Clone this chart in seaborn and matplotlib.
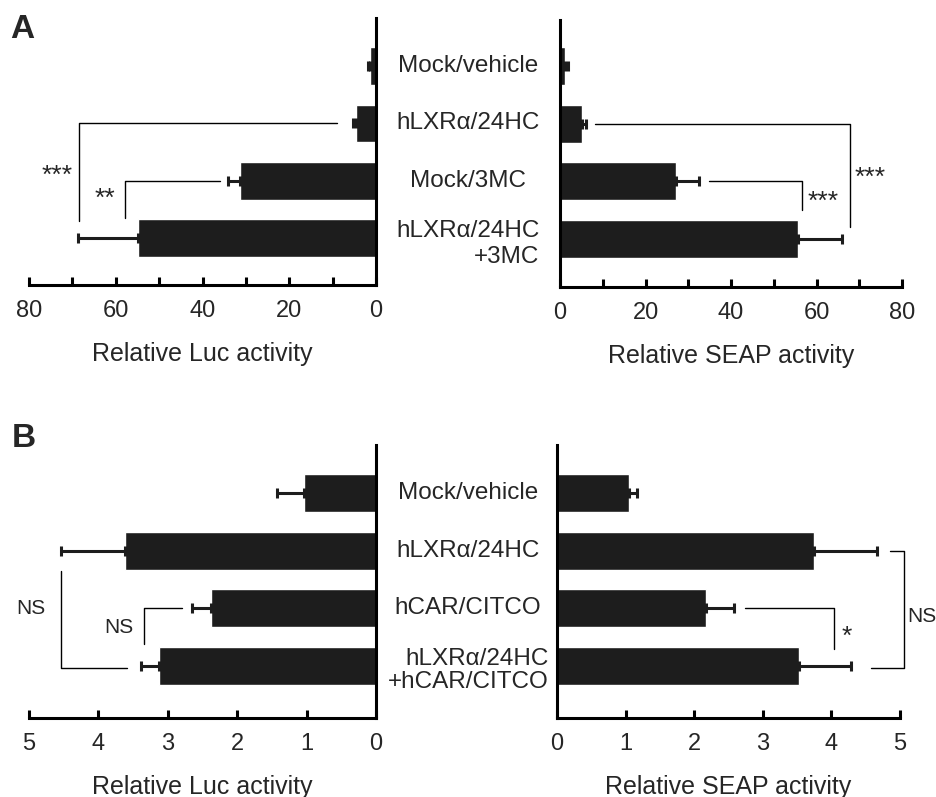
import matplotlib
matplotlib.use("Agg")
import matplotlib.pyplot as plt
import matplotlib.transforms as mtransforms
from matplotlib.ticker import MultipleLocator
import pandas as pd
import seaborn as sns

# data
groups_a = ["Mock/vehicle", "hLXRα/24HC", "Mock/3MC", "hLXRα/24HC\n+3MC"]
luc_a = [1.3, 4.6, 31.3, 54.8]
luc_a_err = [0.6, 0.8, 2.9, 13.9]
seap_a = [1.2, 5.1, 27.1, 55.6]
seap_a_err = [0.6, 1.0, 5.3, 10.4]

groups_b = ["Mock/vehicle", "hLXRα/24HC", "hCAR/CITCO", "hLXRα/24HC\n+hCAR/CITCO"]
luc_b = [1.04, 3.62, 2.38, 3.12]
luc_b_err = [0.39, 0.92, 0.27, 0.26]
seap_b = [1.05, 3.75, 2.17, 3.52]
seap_b_err = [0.12, 0.91, 0.41, 0.76]

sns.set_theme(style="white")
plt.rcParams["font.family"] = ["Liberation Sans", "DejaVu Sans"]

BAR = "#1d1d1d"

fig = plt.figure(figsize=(9.36, 7.97), dpi=100)
ax_al = fig.add_axes([0.031, 0.6424, 0.3707, 0.335])
ax_ar = fig.add_axes([0.5983, 0.6399, 0.3654, 0.335])
ax_bl = fig.add_axes([0.031, 0.0991, 0.3707, 0.3425])
ax_br = fig.add_axes([0.5951, 0.0991, 0.3665, 0.3425])


def draw(ax, groups, vals, errs, side, xmax, major, minor, ylim, xlabel):
    df = pd.DataFrame({"group": groups, "value": vals})
    sns.barplot(data=df, x="value", y="group", orient="h", color=BAR,
                saturation=1, width=0.66, ax=ax, errorbar=None)
    ax.errorbar(vals, range(len(vals)), xerr=[[0] * len(vals), errs],
                fmt="none", ecolor=BAR, elinewidth=2.2, capsize=3.5,
                capthick=2.2)
    if side == "left":
        ax.set_xlim(xmax, 0)
        ax.spines["left"].set_visible(False)
    else:
        ax.set_xlim(0, xmax)
        ax.spines["right"].set_visible(False)
    ax.spines["top"].set_visible(False)
    ax.set_ylim(*ylim)
    ax.set_yticks([])
    ax.set_ylabel("")
    for s in ["left", "right", "bottom"]:
        ax.spines[s].set_linewidth(2.2)
        ax.spines[s].set_color("black")
    ax.xaxis.set_major_locator(MultipleLocator(major))
    ax.xaxis.set_minor_locator(MultipleLocator(minor))
    ax.tick_params(axis="x", which="both", direction="in", length=6,
                   width=2.2, color="black", bottom=True, pad=11,
                   labelsize=17)
    ax.set_xlabel(xlabel, fontsize=18, labelpad=14)


draw(ax_al, groups_a, luc_a, luc_a_err, "left", 80, 20, 10, (3.82, -0.84),
     "Relative Luc activity")
draw(ax_ar, groups_a, seap_a, seap_a_err, "right", 80, 20, 10, (3.84, -0.8),
     "Relative SEAP activity")
draw(ax_bl, groups_b, luc_b, luc_b_err, "left", 5, 1, 1, (3.9, -0.83),
     "Relative Luc activity")
draw(ax_br, groups_b, seap_b, seap_b_err, "right", 5, 1, 1, (3.9, -0.83),
     "Relative SEAP activity")

# category labels between the two panels
for ax, groups, ls, off in [(ax_al, groups_a, 1.22, 0.1),
                            (ax_bl, groups_b, 1.05, 0.08)]:
    tr = mtransforms.blended_transform_factory(fig.transFigure, ax.transData)
    for i, g in enumerate(groups):
        yy = i + off if "\n" in g else i
        fig.text(0.5, yy, g, transform=tr, ha="center", va="center",
                 multialignment="right", fontsize=17.5, linespacing=ls)

# significance brackets
LW = 1.0


def bracket(ax, pts, text, tx, ty, ha="center", size=19):
    xs, ys = zip(*pts)
    ax.plot(xs, ys, color="black", lw=LW, clip_on=False)
    ax.text(tx, ty, text, ha=ha, va="center", fontsize=size, clip_on=False)


bracket(ax_al, [(9, 1), (68.4, 1), (68.4, 2.7)], "***", 73.5, 1.92)
bracket(ax_al, [(36, 2), (57.8, 2), (57.8, 2.65)], "**", 62.5, 2.32)
bracket(ax_ar, [(8.2, 1), (67.9, 1), (67.9, 2.8)], "***", 72.5, 1.94)
bracket(ax_ar, [(34.9, 2), (56.6, 2), (56.6, 2.5)], "***", 61.5, 2.36)

bracket(ax_bl, [(4.54, 1.36), (4.54, 3.03), (3.59, 3.03)], "NS", 4.98, 2.0,
        size=15)
bracket(ax_bl, [(2.8, 2), (3.34, 2), (3.34, 2.62)], "NS", 3.71, 2.33,
        size=15)
bracket(ax_br, [(4.85, 1), (5.06, 1), (5.06, 3.03), (4.57, 3.03)], "NS",
        5.1, 2.14, ha="left", size=15)
bracket(ax_br, [(2.74, 2), (4.03, 2), (4.03, 2.7)], "*", 4.22, 2.5)

fig.text(0.011, 0.963, "A", fontsize=24, fontweight="bold", va="center")
fig.text(0.013, 0.45, "B", fontsize=24, fontweight="bold", va="center")

fig.savefig("out.png", dpi=100)
